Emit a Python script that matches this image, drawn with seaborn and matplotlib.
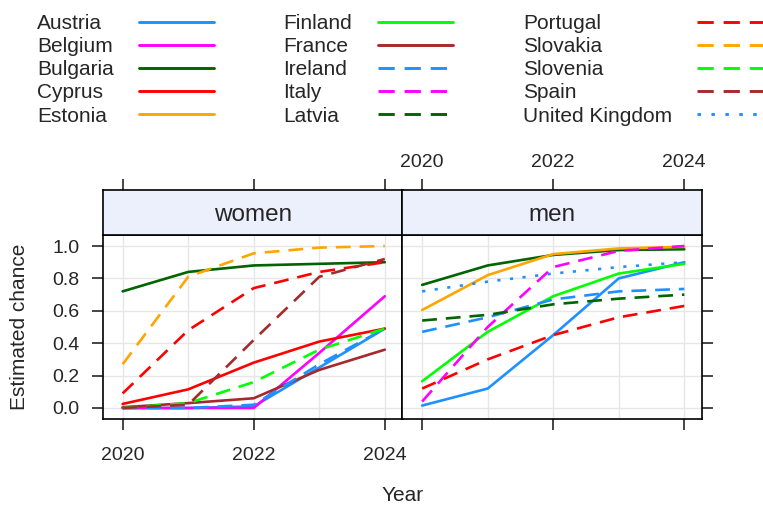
import numpy as np
import pandas as pd
import matplotlib
matplotlib.use("Agg")
import matplotlib.pyplot as plt
from matplotlib.lines import Line2D
import seaborn as sns

years = [2020, 2021, 2022, 2023, 2024]
countries = ["Austria", "Belgium", "Bulgaria", "Cyprus", "Estonia",
             "Finland", "France", "Ireland", "Italy", "Latvia",
             "Portugal", "Slovakia", "Slovenia", "Spain", "United Kingdom"]

women = {
    "Austria":  [0.00, 0.00, 0.01, 0.25, 0.49],
    "Belgium":  [0.00, 0.00, 0.00, 0.34, 0.69],
    "Bulgaria": [0.72, 0.84, 0.88, 0.89, 0.90],
    "Cyprus":   [0.025, 0.115, 0.28, 0.41, 0.49],
    "France":   [0.005, 0.03, 0.06, 0.235, 0.36],
    "Ireland":  [0.00, 0.00, 0.02, 0.27, 0.49],
    "Portugal": [0.09, 0.48, 0.74, 0.84, 0.90],
    "Slovakia": [0.27, 0.81, 0.955, 0.99, 1.00],
    "Slovenia": [0.00, 0.03, 0.16, 0.36, 0.49],
    "Spain":    [0.00, 0.02, 0.42, 0.81, 0.92],
}
men = {
    "Austria":  [0.015, 0.12, 0.45, 0.80, 0.90],
    "Bulgaria": [0.76, 0.88, 0.945, 0.975, 0.98],
    "Estonia":  [0.605, 0.82, 0.95, 0.985, 0.995],
    "Finland":  [0.165, 0.47, 0.69, 0.83, 0.89],
    "Ireland":  [0.47, 0.56, 0.67, 0.72, 0.735],
    "Italy":    [0.04, 0.50, 0.87, 0.97, 1.00],
    "Latvia":   [0.54, 0.575, 0.64, 0.675, 0.70],
    "Portugal": [0.12, 0.30, 0.45, 0.56, 0.63],
    "United Kingdom": [0.72, 0.78, 0.83, 0.87, 0.90],
}

base_cols = ["#1E90FF", "#FF00FF", "#006400", "#FF0000", "#FFA500", "#00FF00", "#A52A2A"]
colors = dict(zip(countries, base_cols + base_cols + ["#1E90FF"]))
dash = (5.6, 3.4)
dot = (1.2, 3.6)
dashes = {c: ("" if i < 7 else (dot if c == "United Kingdom" else dash))
          for i, c in enumerate(countries)}

lw = 1.9
fsize = 15

sns.set_style("white")
plt.rcParams["font.family"] = ["Liberation Sans", "DejaVu Sans"]


def frame(values):
    rows = []
    for country, vals in values.items():
        for y, v in zip(years, vals):
            rows.append({"country": country, "year": y, "chance": v})
    return pd.DataFrame(rows)


W, H = 763, 505
fig = plt.figure(figsize=(W / 100, H / 100), dpi=100)

left, mid, right = 103, 402.5, 702
bot, top, strip_top = 419, 235, 190
xlim = (2019.7, 2024.27)
ylim = (-0.068, 1.068)


def rect(x0, x1, y0, y1):
    return [x0 / W, (H - y0) / H, (x1 - x0) / W, (y0 - y1) / H]


ax_w = fig.add_axes(rect(left, mid, bot, top))
ax_m = fig.add_axes(rect(mid, right, bot, top))
st_w = fig.add_axes(rect(left, mid, top, strip_top))
st_m = fig.add_axes(rect(mid, right, top, strip_top))

for ax, data in [(ax_w, women), (ax_m, men)]:
    sns.lineplot(data=frame(data), x="year", y="chance", hue="country",
                 style="country", palette=colors, dashes=dashes,
                 linewidth=lw, legend=False, ax=ax)
    ax.set_xlim(*xlim)
    ax.set_ylim(*ylim)
    ax.set_yticks([0, 0.2, 0.4, 0.6, 0.8, 1.0])
    # labelled ticks every two years, grid every year
    ax.set_xticks([2020, 2022, 2024])
    ax.set_xticks([2021, 2023], minor=True)
    ax.grid(True, which="both", color="#e6e6e6", lw=1)
    ax.tick_params(which="minor", length=0)
    ax.set_axisbelow(True)
    ax.set_xlabel("")
    ax.set_ylabel("")
    for s in ax.spines.values():
        s.set_color("black")
        s.set_linewidth(1.2)

ax_w.tick_params(axis="x", direction="out", length=8, width=1.2, pad=12,
                 labelsize=14, bottom=True, top=False)
ax_w.tick_params(axis="y", direction="out", length=8, width=1.2, pad=9,
                 labelsize=14, left=True, right=False)
ax_w.set_yticklabels(["0.0", "0.2", "0.4", "0.6", "0.8", "1.0"])
ax_m.tick_params(axis="x", direction="out", length=8, width=1.2,
                 bottom=True, labelbottom=False)
ax_m.tick_params(axis="y", direction="out", length=8, width=1.2,
                 left=False, labelleft=False, right=True, labelright=False)

for st, name, show in [(st_w, "women", False), (st_m, "men", True)]:
    st.set_facecolor("#ebf0fc")
    st.set_xlim(*xlim)
    st.set_ylim(0, 1)
    st.set_yticks([])
    st.set_xticks([2020, 2022, 2024])
    st.xaxis.tick_top()
    st.tick_params(axis="x", direction="out", length=8, width=1.2, pad=6,
                   labelsize=14, labeltop=show, bottom=False, labelbottom=False)
    st.text(0.5, 0.45, name, transform=st.transAxes, ha="center", va="center",
            fontsize=17.5)
    for s in st.spines.values():
        s.set_color("black")
        s.set_linewidth(1.2)

ax_w.set_ylabel("Estimated chance", fontsize=fsize, labelpad=17)
fig.supxlabel("Year", x=(left + right) / 2 / W, y=0.0, va="bottom",
              fontsize=fsize)

# legend: three columns, label first then key
def handle(c):
    ls = "-" if dashes[c] == "" else (0, dashes[c])
    return Line2D([], [], color=colors[c], lw=lw * 1.1, linestyle=ls)

text_x = [37, 283, 523]
key_x = [139, 378, 697]
leg_top = 14
for col in range(3):
    names = countries[col * 5:(col + 1) * 5]
    blank = [Line2D([], [], linestyle="none") for _ in names]
    fig.legend(blank, names, loc="upper left",
               bbox_to_anchor=(text_x[col] / W, 1 - leg_top / H),
               frameon=False, fontsize=fsize, handlelength=0,
               handletextpad=0, borderpad=0, borderaxespad=0,
               labelspacing=0.2)
    fig.legend([handle(c) for c in names], [""] * 5, loc="upper left",
               bbox_to_anchor=(key_x[col] / W, 1 - leg_top / H),
               frameon=False, fontsize=fsize, handlelength=3.6,
               handletextpad=0, borderpad=0, borderaxespad=0,
               labelspacing=0.2)

fig.savefig("out.png", dpi=100)
